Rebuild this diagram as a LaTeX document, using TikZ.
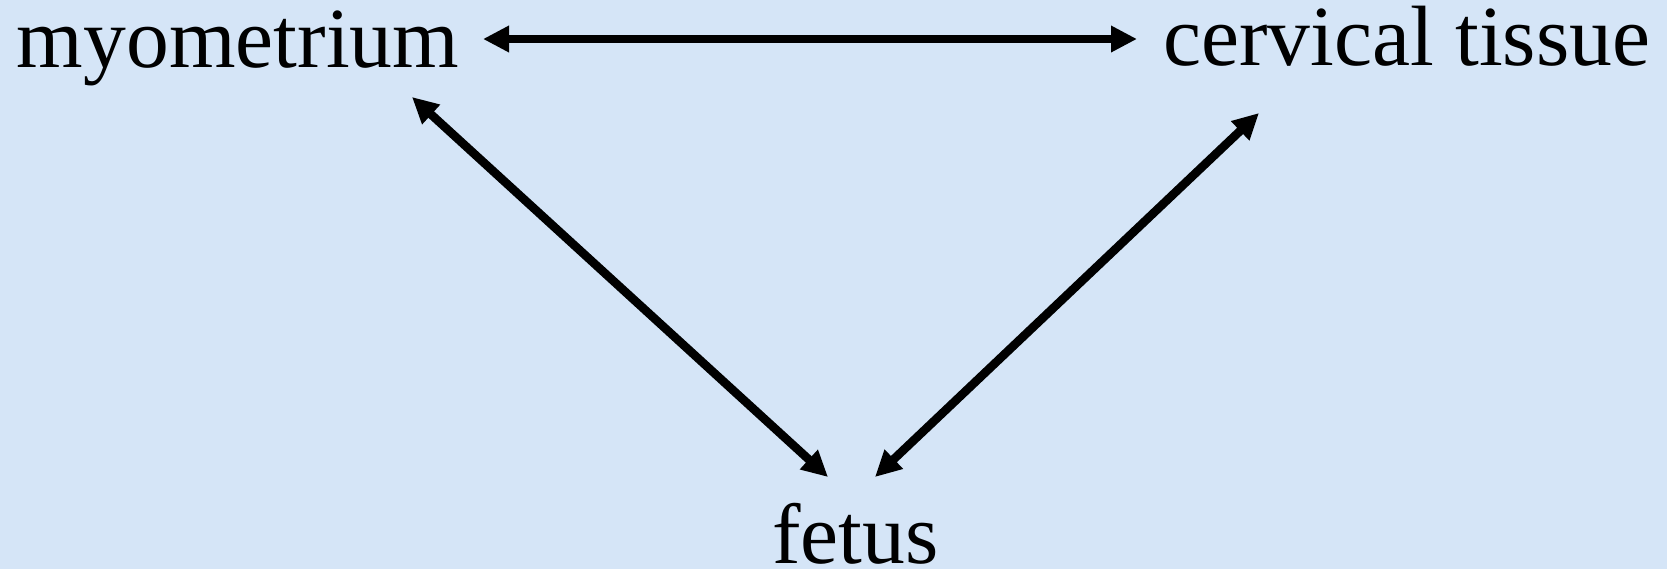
\documentclass[tikz,border=0pt]{standalone}
\usepackage{fontspec}
\setmainfont{Liberation Serif}
\usetikzlibrary{arrows.meta,calc}
\definecolor{bg}{RGB}{213,229,247}
\begin{document}
\begin{tikzpicture}[x=0.5pt,y=-0.5pt,
  lbl/.style={inner sep=0pt,outer sep=0pt,anchor=base west,font=\fontsize{42.8}{50}\selectfont},
  arr/.style={line width=4.3pt,{Triangle[length=13pt,width=12.5pt]}-{Triangle[length=13pt,width=12.5pt]}}]
\fill[bg] (0,0) rectangle (1667,569);
\useasboundingbox (0,0) rectangle (1667,569);
\node[lbl] (m) at (17,67) {myometrium};
\node[lbl] (c) at (1163,65) {cervical tissue};
\node[lbl] (f) at (772,563) {fetus};
\draw[arr] ($(m.base west)+(466,-28)$) -- ($(c.base west)+(-26,-26)$);
\draw[arr] ($(m.base west)+(395,30)$) -- ($(f.base west)+(56,-86)$);
\draw[arr] ($(c.base west)+(96,48)$) -- ($(f.base west)+(103,-86)$);
\end{tikzpicture}
\end{document}
